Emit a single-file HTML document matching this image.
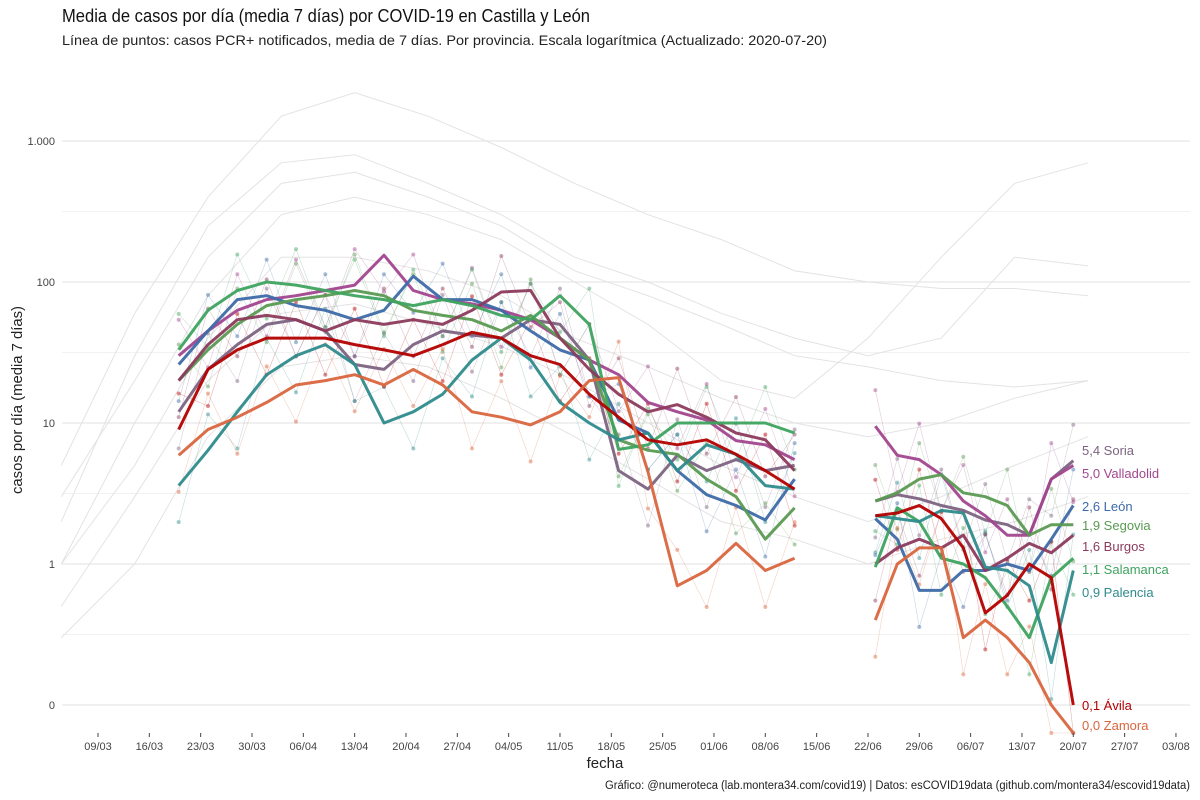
<!DOCTYPE html>
<html><head><meta charset="utf-8"><style>
body{margin:0;background:#fff;}
svg{display:block;font-family:"Liberation Sans Narrow","Liberation Sans",sans-serif;}
</style></head><body>
<svg id="chart" width="1200" height="800">
<text x="62" y="22" font-size="18" fill="#111" textLength="528" lengthAdjust="spacingAndGlyphs">Media de casos por día (media 7 días) por COVID-19 en Castilla y León</text>
<text x="62" y="45" font-size="14" fill="#222" textLength="765" lengthAdjust="spacingAndGlyphs">Línea de puntos: casos PCR+ notificados, media de 7 días. Por provincia. Escala logarítmica  (Actualizado: 2020-07-20)</text>
<g id="grid"></g>
<g id="bg"></g>
<g id="series"></g>
<g id="axes"></g>
<text transform="translate(22,400) rotate(-90)" text-anchor="middle" font-size="15" fill="#222" textLength="188" lengthAdjust="spacingAndGlyphs">casos por día (media 7 días)</text>
<text x="605" y="768" text-anchor="middle" font-size="15" fill="#222">fecha</text>
<text x="1190" y="789" text-anchor="end" font-size="11.5" fill="#222" textLength="585" lengthAdjust="spacingAndGlyphs">Gráfico: @numeroteca (lab.montera34.com/covid19) | Datos: esCOVID19data (github.com/montera34/escovid19data)</text>
</svg>
<script>
const yTicks=[0.1,1,10,100,1000];
const yTickLabels=["0","1","10","100","1.000"];
const xTickDays=[0,7,14,21,28,35,42,49,56,63,70,77,84,91,98,105,112,119,126,133,140,147];
const xTickLabels=["09/03","16/03","23/03","30/03","06/04","13/04","20/04","27/04","04/05","11/05","18/05","25/05","01/06","08/06","15/06","22/06","29/06","06/07","13/07","20/07","27/07","03/08"];
const days1=[11,15,19,23,27,31,35,39,43,47,51,55,59,63,67,71,75,79,83,87,91,95];
const days2=[106,109,112,115,118,121,124,127,130,133];
const provinces=["Soria","Valladolid","León","Segovia","Burgos","Salamanca","Palencia","Ávila","Zamora"];
const colors=["#7d6382","#a2468f","#3d6aa8","#5a9a52","#8c3a5c","#3ea35f","#2e8b8c","#b30000","#d9653e"];
const endLabels=["5,4 Soria","5,0 Valladolid","2,6 León","1,9 Segovia","1,6 Burgos","1,1 Salamanca","0,9 Palencia","0,1 Ávila","0,0 Zamora"];
const labelY=[455,478,511,530,551,574,597,710,730];
const soria1=[12,24,36,50,54,45,26,24,36,45,42,40,54,50,28,4.6,3.4,5.9,4.6,5.5,4.6,5.0];
const soria2=[2.8,3.1,2.9,2.6,2.4,2.05,1.9,1.6,4,5.4];
const valladolid1=[30,45,63,75,80,87,95,155,87,75,70,63,54,40,28,22,14,12,10.5,7.5,7,5.5];
const valladolid2=[9.5,5.9,5.5,4.3,2.8,2.2,1.6,1.6,4,5.0];
const leon1=[26,45,75,80,68,63,54,63,110,75,75,63,45,33,28,10.5,8.5,4.6,3.1,2.6,2.05,4];
const leon2=[2.1,1.5,0.65,0.65,0.9,0.9,1.0,0.9,1.5,2.6];
const segovia1=[20,33,50,68,75,80,87,80,63,58,54,45,58,40,28,7.6,6.4,6,4,3,1.5,2.5];
const segovia2=[2.8,3.2,4.0,4.3,3.2,3.0,2.6,1.6,1.9,1.9];
const burgos1=[20,36,54,58,54,45,54,50,54,50,63,85,87,40,24,16,12,13.5,11,8.5,7.6,4.6];
const burgos2=[1.0,1.3,1.5,1.3,1.6,0.9,1.1,1.4,1.2,1.6];
const salamanca1=[33,63,87,100,95,87,80,75,68,75,68,58,54,80,50,6.5,7,10,10,10,10,8.5];
const salamanca2=[0.95,2.5,2.0,1.1,1.0,0.8,0.5,0.3,0.8,1.1];
const palencia1=[3.6,6.4,12,22,30,36,26,10,12,16,28,40,28,14,10,7.6,8.5,4.6,7,6,3.6,3.4];
const palencia2=[2.2,2.1,2.0,2.4,2.3,0.95,0.9,0.7,0.2,0.9];
const avila1=[9,24,33,40,40,40,36,33,30,36,44,40,30,26,16,11,7.6,7,7.6,6,4.6,3.4];
const avila2=[2.2,2.3,2.6,2.1,1.3,0.45,0.6,1.0,0.8,0.1];
const zamora1=[5.9,9,11,14,18.6,20,22,18.6,24,18.6,12,11,9.7,12,20,21,4.5,0.7,0.9,1.4,0.9,1.1];
const zamora2=[0.4,1.0,1.3,1.3,0.3,0.4,0.3,0.2,0.1,0];
const seg1=[soria1,valladolid1,leon1,segovia1,burgos1,salamanca1,palencia1,avila1,zamora1];
const seg2=[soria2,valladolid2,leon2,segovia2,burgos2,salamanca2,palencia2,avila2,zamora2];
const bgDays=[-5,5,15,25,35,45,55,65,75,85,95,105,115,125,135];
const grey1=[5,60,400,1500,2200,1500,900,500,300,200,120,100,90,90,80];
const grey2=[2,30,250,700,800,500,300,150,100,60,40,30,40,150,130];
const grey3=[1,10,80,300,400,300,200,100,50,20,15,40,150,500,700];
const grey4=[1,5,40,150,150,120,80,40,25,15,10,8,10,15,20];
const grey5=[0.5,3,20,60,70,50,35,20,10,5,3,2,3,5,8];
const grey6=[0.3,1,8,25,30,25,15,8,4,2,1.5,1,1.5,2,3];
const grey7=[3,20,150,500,600,400,250,120,80,50,30,25,20,18,20];
const greys=[grey1,grey2,grey3,grey4,grey5,grey6,grey7];

const NS="http://www.w3.org/2000/svg";
function xs(d){return 98+d*7.333;}
function ys(v){if(v<=0)return 733;return Math.min(733,564-141*Math.log10(v));}
function mk(tag,attrs,parent){const e=document.createElementNS(NS,tag);for(const k in attrs)e.setAttribute(k,attrs[k]);parent.appendChild(e);return e;}
function pathD(days,vals){return vals.map((v,i)=>(i?"L":"M")+xs(days[i]).toFixed(1)+","+ys(v).toFixed(1)).join("");}

const grid=document.getElementById('grid');
yTicks.forEach((t,i)=>{
  const l=mk('line',{x1:62,x2:1190,y1:ys(t),y2:ys(t),stroke:'#e6e6e6','stroke-width':1.2},grid);
  
  
  if(t<1000){const m=mk('line',{x1:62,x2:1190,y1:ys(t*3.1623),y2:ys(t*3.1623),stroke:'#f2f2f2','stroke-width':1},grid);
  
  }
  const tx=mk('text',{x:55,y:ys(t)+4,'text-anchor':'end','font-size':11,fill:'#444'},grid);
  tx.textContent=yTickLabels[i];
  
  
});
const axes=document.getElementById('axes');
xTickDays.forEach((d,i)=>{
  const l=mk('line',{x1:xs(d),x2:xs(d),y1:733,y2:737,stroke:'#444','stroke-width':1},axes);
  
  
  const tx=mk('text',{x:xs(d),y:750,'text-anchor':'middle','font-size':11,fill:'#444'},axes);
  tx.textContent=xTickLabels[i];
  
  
});
const bg=document.getElementById('bg');
greys.forEach(g=>{
  const p=mk('path',{d:pathD(bgDays,g),fill:'none',stroke:'#e3e3e3','stroke-width':1},bg);
  
  
});
const ser=document.getElementById('series');
// faint daily points around the smoothed series
provinces.forEach((p,i)=>{
  [[days1,seg1[i]],[days2,seg2[i]]].forEach(([dd,vv])=>{
    const jit=vv.map((v,k)=>(k+i)%2?v*1.8:v*0.55);
    const pl=mk('path',{d:pathD(dd,jit),fill:'none',stroke:colors[i],'stroke-width':0.6,opacity:0.3},ser);
    
    
    jit.forEach((v,k)=>{
      const c=mk('circle',{cx:xs(dd[k]),cy:ys(v),r:2,fill:colors[i],opacity:0.45},ser);
      
      
    });
  });
});
provinces.forEach((p,i)=>{
  [[days1,seg1[i]],[days2,seg2[i]]].forEach(([dd,vv])=>{
    const pl=mk('path',{d:pathD(dd,vv),fill:'none',stroke:colors[i],'stroke-width':3,'stroke-linejoin':'round',opacity:0.95},ser);
    
    
  });
  const t=mk('text',{x:1082,y:labelY[i],'font-size':13,fill:colors[i]},ser);
  t.textContent=endLabels[i];
  
  
});
</script>
</body></html>
